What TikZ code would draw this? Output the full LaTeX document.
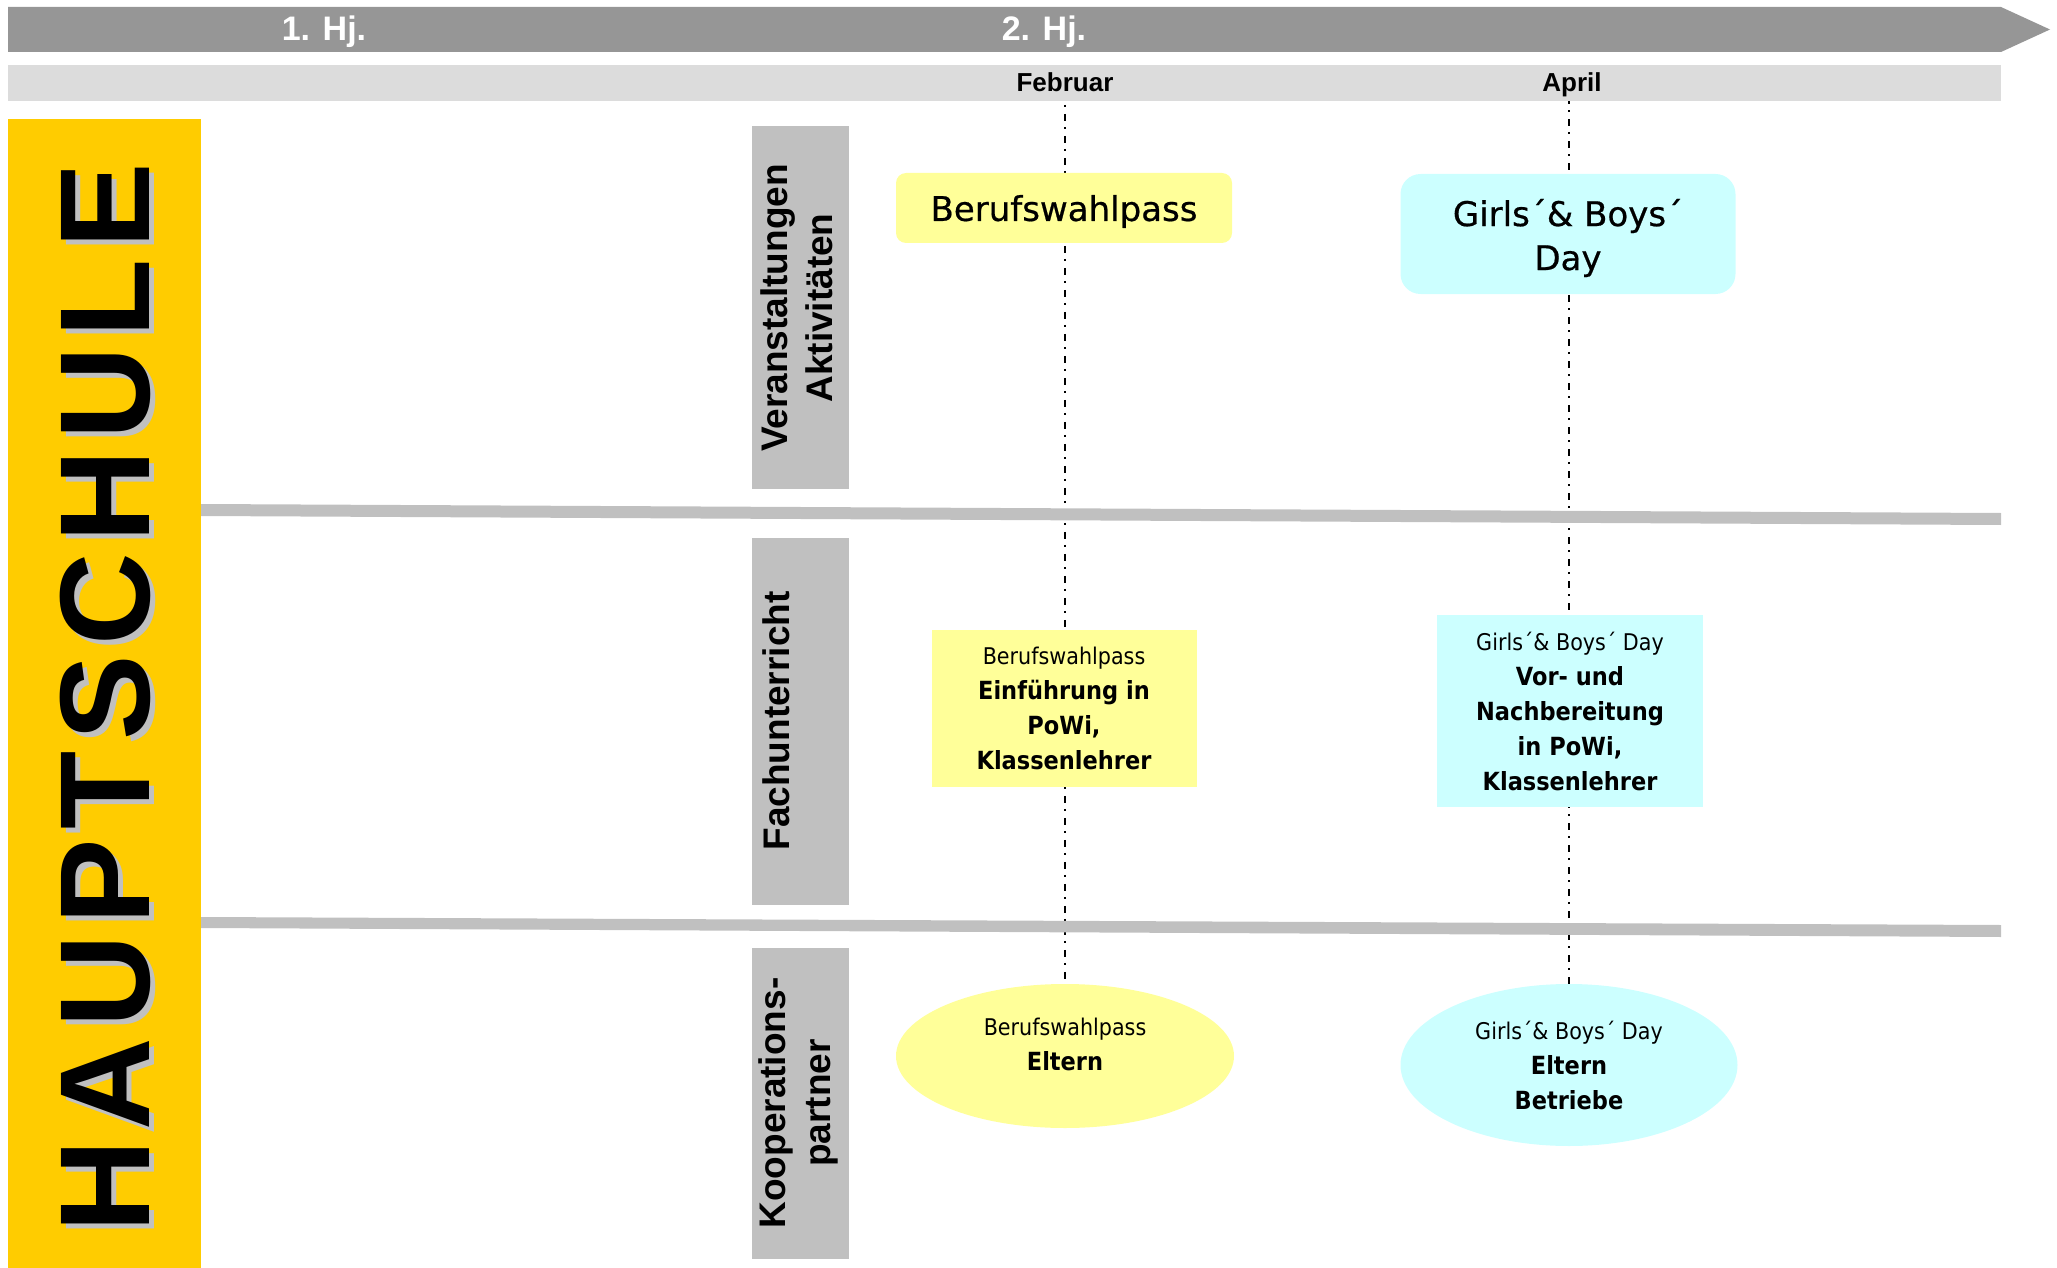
\documentclass[tikz,border=0pt]{standalone}
\usepackage{fontspec}
\setmainfont{DejaVu Sans}
\newfontfamily\headfont{Liberation Sans}
\newfontfamily\schoolfont{Liberation Sans}[LetterSpace=8]
\newfontfamily\boxfont{DejaVu Sans}[FakeStretch=0.9]
\newfontfamily\eventfont{DejaVu Sans}[FakeBold=0.6]
\usepackage{tikz}
\usetikzlibrary{shapes.geometric, positioning, backgrounds}
\definecolor{hjgray}{HTML}{969696}
\definecolor{monthgray}{HTML}{DCDCDC}
\definecolor{lanegray}{HTML}{C0C0C0}
\definecolor{schoolyellow}{HTML}{FFCC00}
\definecolor{passyellow}{HTML}{FFFF99}
\definecolor{daycyan}{HTML}{CCFFFF}
\tikzset{
    hjlabel/.style={
        text=white,
        anchor=base,
        font=\headfont\bfseries\fontsize{34}{38}\selectfont,
        inner sep=0,
    },
    month/.style={
        anchor=base,
        font=\headfont\bfseries\fontsize{26}{30}\selectfont,
        inner sep=0,
    },
    lanelabel/.style={
        rotate=90,
        align=center,
        font=\headfont\bfseries\fontsize{37}{45}\selectfont,
        inner sep=0,
    },
    eventbox/.style={
        rectangle,
        align=center,
        inner sep=0,
        font=\eventfont\fontsize{34}{44}\selectfont,
    },
    infobox/.style={
        rectangle,
        align=center,
        inner sep=0,
        font=\boxfont\bfseries\fontsize{25}{35}\selectfont,
    },
    partner/.style={
        ellipse,
        inner sep=0,
    },
    timeline/.style={
        line width=2pt,
        dash pattern=on 7pt off 6pt on 2pt off 7pt,
    },
}
\newcommand{\smalltitle}[1]{{\mdseries\fontsize{23}{35}\selectfont #1}}

\begin{document}
\begin{tikzpicture}[x=1pt, y=-1pt]
    \useasboundingbox (0,0) rectangle (2057,1268);

    % time axis
    \fill[hjgray] (8,7) -- (2001,7) -- (2050,29.5) -- (2001,52) -- (8,52) -- cycle;
    \node [hjlabel] (hj1) at (324,41) {1. Hj.};
    \node [hjlabel] (hj2) at (1044,41) {2. Hj.};

    \fill[monthgray] (8,65) rectangle (2001,101);
    \node [month] (feb) at (1065,91.5) {Februar};
    \node [month] (apr) at (1572,91.5) {April};

    % school bar
    \fill[schoolyellow] (8,119) rectangle (201,1268);
    \node [rotate=90, anchor=base, inner sep=0, text=lanegray,
        font=\schoolfont\bfseries\fontsize{128}{130}\selectfont] (schoolshadow) at (154,703) {HAUPTSCHULE};
    \node [rotate=90, anchor=base, inner sep=0,
        font=\schoolfont\bfseries\fontsize{128}{130}\selectfont] (school) at (149,698) {HAUPTSCHULE};

    % lane separators
    \fill[lanegray] (201,504) -- (2001,513) -- (2001,525) -- (201,516) -- cycle;
    \fill[lanegray] (201,917) -- (2001,925) -- (2001,937) -- (201,928) -- cycle;

    % lane labels
    \fill[lanegray] (752,126) rectangle (849,489);
    \fill[lanegray] (752,538) rectangle (849,905);
    \fill[lanegray] (752,948) rectangle (849,1259);
    \node [lanelabel] (lane1) at (797,308) {Veranstaltungen\\Aktivitäten};
    \node [lanelabel] (lane2) at (776,721) {Fachunterricht};
    \node [lanelabel] (lane3) at (798,1103) {Kooperations-\\partner};

    % events
    \node [eventbox, fill=passyellow, rounded corners=10pt, text depth=0pt,
        minimum width=336pt, minimum height=70pt] (passev) at (1064,208) {Berufswahlpass};
    \node [eventbox, fill=daycyan, rounded corners=20pt,
        minimum width=335pt, minimum height=120pt] (dayev) at (1568,234) {};
    \node [eventbox] (dayevtext) at (1568,238) {Girls´\& Boys´\\Day};

    % lessons
    \node [infobox, fill=passyellow, minimum width=265pt, minimum height=157pt] (passinfo) at (1064,708)
        {\smalltitle{Berufswahlpass}\\Einführung in\\PoWi,\\Klassenlehrer};
    \node [infobox, fill=daycyan, minimum width=266pt, minimum height=192pt] (dayinfo) at (1570,711)
        {\smalltitle{Girls´\& Boys´ Day}\\Vor- und\\Nachbereitung\\in PoWi,\\Klassenlehrer};

    % partners
    \node [partner, fill=passyellow, minimum width=338pt, minimum height=144pt] (passpartner) at (1065,1056) {};
    \node [infobox] (passpartnertext) at (1065,1044) {\smalltitle{Berufswahlpass}\\Eltern};
    \node [partner, infobox, ellipse, fill=daycyan, minimum width=337pt, minimum height=162pt] (daypartner) at (1569,1065)
        {\smalltitle{Girls´\& Boys´ Day}\\Eltern\\Betriebe};

    \begin{pgfonlayer}{background}
        \draw[timeline] (feb.south) -- (passpartner.north);
        \draw[timeline] (apr.south -| daypartner.north) -- (daypartner.north);
    \end{pgfonlayer}
\end{tikzpicture}
\end{document}
